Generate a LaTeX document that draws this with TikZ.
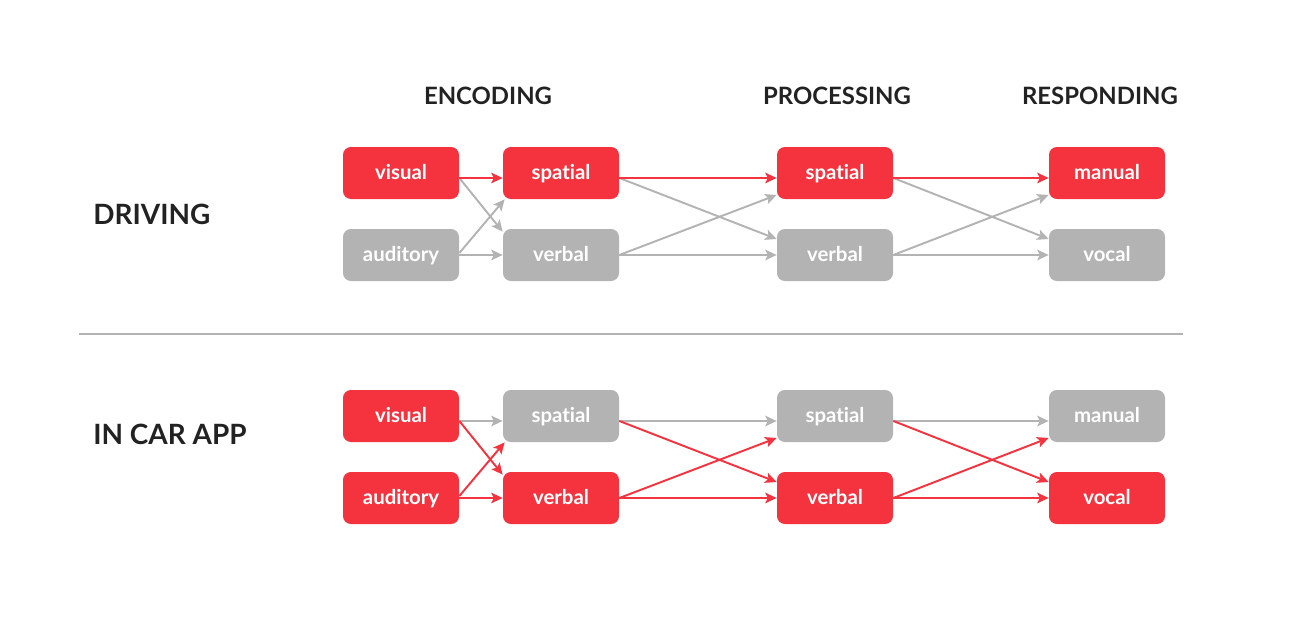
\documentclass[tikz,border=0pt]{standalone}
\usepackage{fontspec}
\setmainfont{Lato}[Ligatures={NoCommon}]
\usetikzlibrary{arrows.meta}
\definecolor{appred}{HTML}{F5333F}
\definecolor{appgray}{HTML}{B3B3B3}
\definecolor{labelink}{HTML}{222222}
\tikzset{
  box/.style={rounded corners=4.5pt, minimum width=23.2mm, minimum height=10.4mm, inner sep=0pt, text height=2.7mm, text depth=0mm, text=white, font=\bfseries\fontsize{11.6}{14}\selectfont},
  redbox/.style={box, fill=appred},
  graybox/.style={box, fill=appgray},
  link/.style={line width=1.1pt, -{Stealth[length=6.5pt,width=6pt,inset=1.5pt]}},
  redlink/.style={link, draw=appred},
  graylink/.style={link, draw=appgray},
  heading/.style={font=\bfseries\fontsize{13.6}{16}\selectfont, text=labelink, inner sep=0pt, anchor=base},
  rowname/.style={font=\bfseries\fontsize{15.9}{19}\selectfont, text=labelink, inner sep=0pt, anchor=base west},
}
\begin{document}
\begin{tikzpicture}[x=0.2mm,y=-0.2mm]
  \useasboundingbox (0,0) rectangle (1300,633);
  % column headings
  \node[heading] (henc) at (488,104) {ENCODING};
  \node[heading] (hproc) at (837,104) {PROCESSING};
  \node[heading] (hresp) at (1100,104) {RESPONDING};
  \node[rowname] (ldrive) at (93,224) {DRIVING};
  \node[rowname] (lcar) at (93,444) {IN CAR APP};
  \draw[appgray, line width=1pt] (79,334) -- (1183,334);
  % driving
  \node[redbox] (dv) at (401,173) {visual};
  \node[graybox] (da) at (401,255) {auditory};
  \node[redbox] (des) at (561,173) {spatial};
  \node[graybox] (dev) at (561,255) {verbal};
  \node[redbox] (dps) at (835,173) {spatial};
  \node[graybox] (dpv) at (835,255) {verbal};
  \node[redbox] (drm) at (1107,173) {manual};
  \node[graybox] (drv) at (1107,255) {vocal};
  \draw[graylink] ([yshift=-1mm]dv.east) -- ([yshift=-0.6mm]dev.north west);
  \draw[graylink] ([yshift=0.4mm]da.east) -- ([xshift=0.4mm]des.south west);
  \draw[graylink] (da.east) -- (dev.west);
  \draw[graylink] ([yshift=-1mm]des.east) -- ([yshift=3.2mm]dpv.west);
  \draw[graylink] (dev.east) -- ([yshift=-4.4mm]dps.west);
  \draw[graylink] (dev.east) -- (dpv.west);
  \draw[graylink] ([yshift=-1mm]dps.east) -- ([yshift=3.2mm]drv.west);
  \draw[graylink] (dpv.east) -- ([yshift=-4.4mm]drm.west);
  \draw[graylink] (dpv.east) -- (drv.west);
  \draw[redlink] ([yshift=-1mm]dv.east) -- ([yshift=-1mm]des.west);
  \draw[redlink] ([yshift=-1mm]des.east) -- ([yshift=-1mm]dps.west);
  \draw[redlink] ([yshift=-1mm]dps.east) -- ([yshift=-1mm]drm.west);
  % in car app
  \node[redbox] (cv) at (401,416) {visual};
  \node[redbox] (ca) at (401,498) {auditory};
  \node[graybox] (ces) at (561,416) {spatial};
  \node[redbox] (cev) at (561,498) {verbal};
  \node[graybox] (cps) at (835,416) {spatial};
  \node[redbox] (cpv) at (835,498) {verbal};
  \node[graybox] (crm) at (1107,416) {manual};
  \node[redbox] (crv) at (1107,498) {vocal};
  \draw[graylink] ([yshift=-1mm]cv.east) -- ([yshift=-1mm]ces.west);
  \draw[graylink] ([yshift=-1mm]ces.east) -- ([yshift=-1mm]cps.west);
  \draw[graylink] ([yshift=-1mm]cps.east) -- ([yshift=-1mm]crm.west);
  \draw[redlink] ([yshift=-1mm]cv.east) -- ([yshift=-0.6mm]cev.north west);
  \draw[redlink] ([yshift=0.4mm]ca.east) -- ([xshift=0.4mm]ces.south west);
  \draw[redlink] (ca.east) -- (cev.west);
  \draw[redlink] ([yshift=-1mm]ces.east) -- ([yshift=3.2mm]cpv.west);
  \draw[redlink] (cev.east) -- ([yshift=-4.4mm]cps.west);
  \draw[redlink] (cev.east) -- (cpv.west);
  \draw[redlink] ([yshift=-1mm]cps.east) -- ([yshift=3.2mm]crv.west);
  \draw[redlink] (cpv.east) -- ([yshift=-4.4mm]crm.west);
  \draw[redlink] (cpv.east) -- (crv.west);
\end{tikzpicture}
\end{document}
